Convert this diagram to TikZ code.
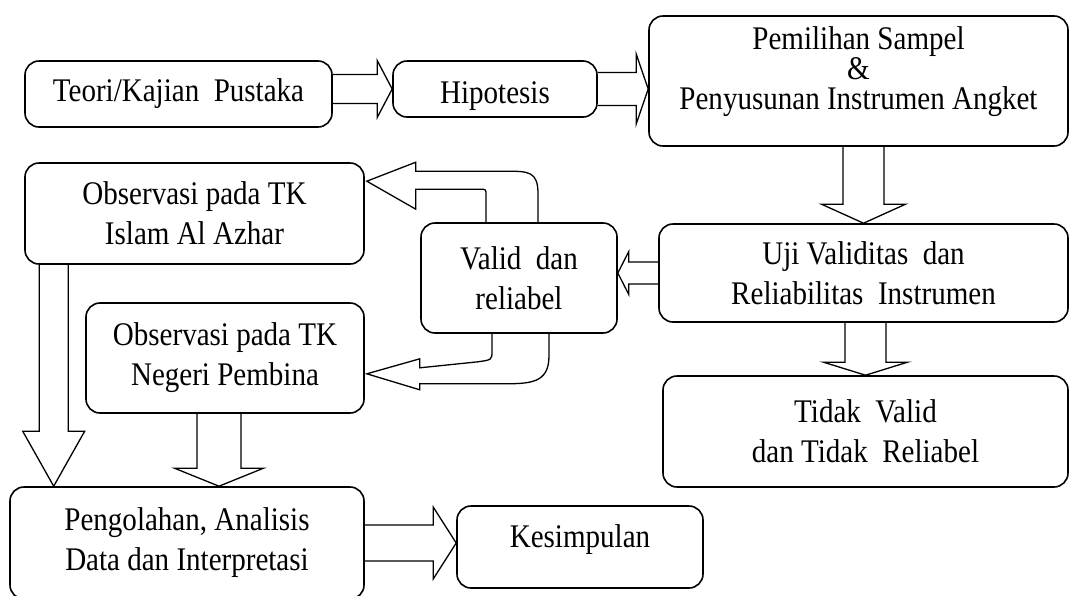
\documentclass[tikz,border=0pt]{standalone}
\usepackage{fontspec}
\setmainfont{Liberation Serif}[FakeStretch=0.88]
\usetikzlibrary{calc}

% hollow block arrows: #1 from, #2 tip, #3 half shaft, #4 half head, #5 head length
\newcommand{\rightblock}[5]{%
  \draw[blockarrow] let \p1=(#1), \p2=(#2) in
    (\x1,\y2+#3) -- (\x2-#5,\y2+#3) -- (\x2-#5,\y2+#4) -- (\p2)
    -- (\x2-#5,\y2-#4) -- (\x2-#5,\y2-#3) -- (\x1,\y2-#3);}
\newcommand{\leftblock}[5]{%
  \draw[blockarrow] let \p1=(#1), \p2=(#2) in
    (\x1,\y2+#3) -- (\x2+#5,\y2+#3) -- (\x2+#5,\y2+#4) -- (\p2)
    -- (\x2+#5,\y2-#4) -- (\x2+#5,\y2-#3) -- (\x1,\y2-#3);}
\newcommand{\downblock}[5]{%
  \draw[blockarrow] let \p1=(#1), \p2=(#2) in
    (\x2-#3,\y1) -- (\x2-#3,\y2+#5) -- (\x2-#4,\y2+#5) -- (\p2)
    -- (\x2+#4,\y2+#5) -- (\x2+#3,\y2+#5) -- (\x2+#3,\y1);}

\begin{document}
\begin{tikzpicture}[
    x=1pt, y=-1pt,
    box/.style={rectangle, draw, rounded corners=14pt, line width=1.6pt, align=center,
                inner sep=0pt, font=\fontsize{33}{40}\selectfont},
    blockarrow/.style={line width=1.3pt, line join=miter}
]
    \useasboundingbox (0,0) rectangle (1071,595);

    % Top row
    \node[box, minimum width=307pt, minimum height=66pt] (teori) at (178.5,94) {Teori/Kajian\ \ Pustaka};
    \node[box, minimum width=204pt, minimum height=56pt, text height=36pt] (hipotesis) at (495,89) {Hipotesis};
    \node[box, minimum width=419pt, minimum height=130pt, text depth=26pt, font=\fontsize{33}{30}\selectfont] (sampel) at (858.5,81)
        {Pemilihan Sampel\\\&\\Penyusunan Instrumen Angket};

    % Right column
    \node[box, minimum width=409pt, minimum height=98pt] (uji) at (863.5,273) {Uji Validitas\ \ dan\\Reliabilitas\ \ Instrumen};
    \node[box, minimum width=405pt, minimum height=111pt] (tidak) at (865.5,431.5) {Tidak\ \ Valid\\dan Tidak\ \ Reliabel};

    % Middle
    \node[box, minimum width=196pt, minimum height=110pt] (valid) at (519,278) {Valid\ \ dan\\reliabel};

    % Left column
    \node[box, minimum width=339pt, minimum height=101pt] (azhar) at (194.5,213.5) {Observasi pada TK\\Islam Al Azhar};
    \node[box, minimum width=278pt, minimum height=110pt] (pembina) at (225,358) {Observasi pada TK\\Negeri Pembina};

    % Bottom row
    \node[box, minimum width=354pt, minimum height=112pt] (olah) at (187,543) {Pengolahan, Analisis\\Data dan Interpretasi};
    \node[box, minimum width=246pt, minimum height=82pt, text depth=22pt] (simpul) at (580,547) {Kesimpulan};

    % Straight block arrows
    \rightblock{teori.east}{hipotesis.west}{14.5}{28.5}{15}
    \rightblock{hipotesis.east}{sampel.west |- hipotesis.east}{16.5}{35}{12}
    \downblock{sampel.south}{uji.north}{20.5}{42}{19}
    \downblock{uji.south}{tidak.north}{20.5}{42}{13}
    \leftblock{uji.west}{valid.east |- uji.west}{11}{21.5}{11}
    \downblock{azhar.south}{$(olah.north west)+(44.5,0)$}{14.5}{31}{55}
    \downblock{pembina.south}{$(pembina.south |- olah.north)+(-6,0)$}{22}{44.5}{18}
    \rightblock{olah.east}{simpul.west |- olah.east}{18}{36}{23}

    % Curved block arrow: valid -> azhar
    \draw[blockarrow] let \p1=(valid.north), \p2=(azhar.east) in
        (\x1+19,\y1) -- (\x1+19,\y1+28) .. controls (\x1+19,\y1+51) and (\x1+10,\y1+51) .. (\x1-14,\y1+51)
        -- (\x2+51,\y1+51) -- (\x2+51,\y1+60) -- (\x2+2,\y1+41) -- (\x2+51,\y1+13) -- (\x2+51,\y1+33)
        -- (\x1-39,\y1+33) .. controls (\x1-33,\y1+33) .. (\x1-33,\y1+27) -- (\x1-33,\y1);

    % Curved block arrow: valid -> pembina
    \draw[blockarrow] let \p1=(valid.south), \p2=(pembina.east) in
        (\x1+30,\y1) -- (\x1+30,\y1-22) .. controls (\x1+30,\y1-50) and (\x1+11,\y1-50) .. (\x1-19,\y1-50)
        -- (\x2+55,\y1-50) -- (\x2+55,\y1-56) -- (\x2+2,\y1-40) -- (\x2+55,\y1-25) -- (\x2+55,\y1-34)
        -- (\x1-41,\y1-28) .. controls (\x1-27,\y1-26) .. (\x1-27,\y1-17) -- (\x1-27,\y1);
\end{tikzpicture}
\end{document}
